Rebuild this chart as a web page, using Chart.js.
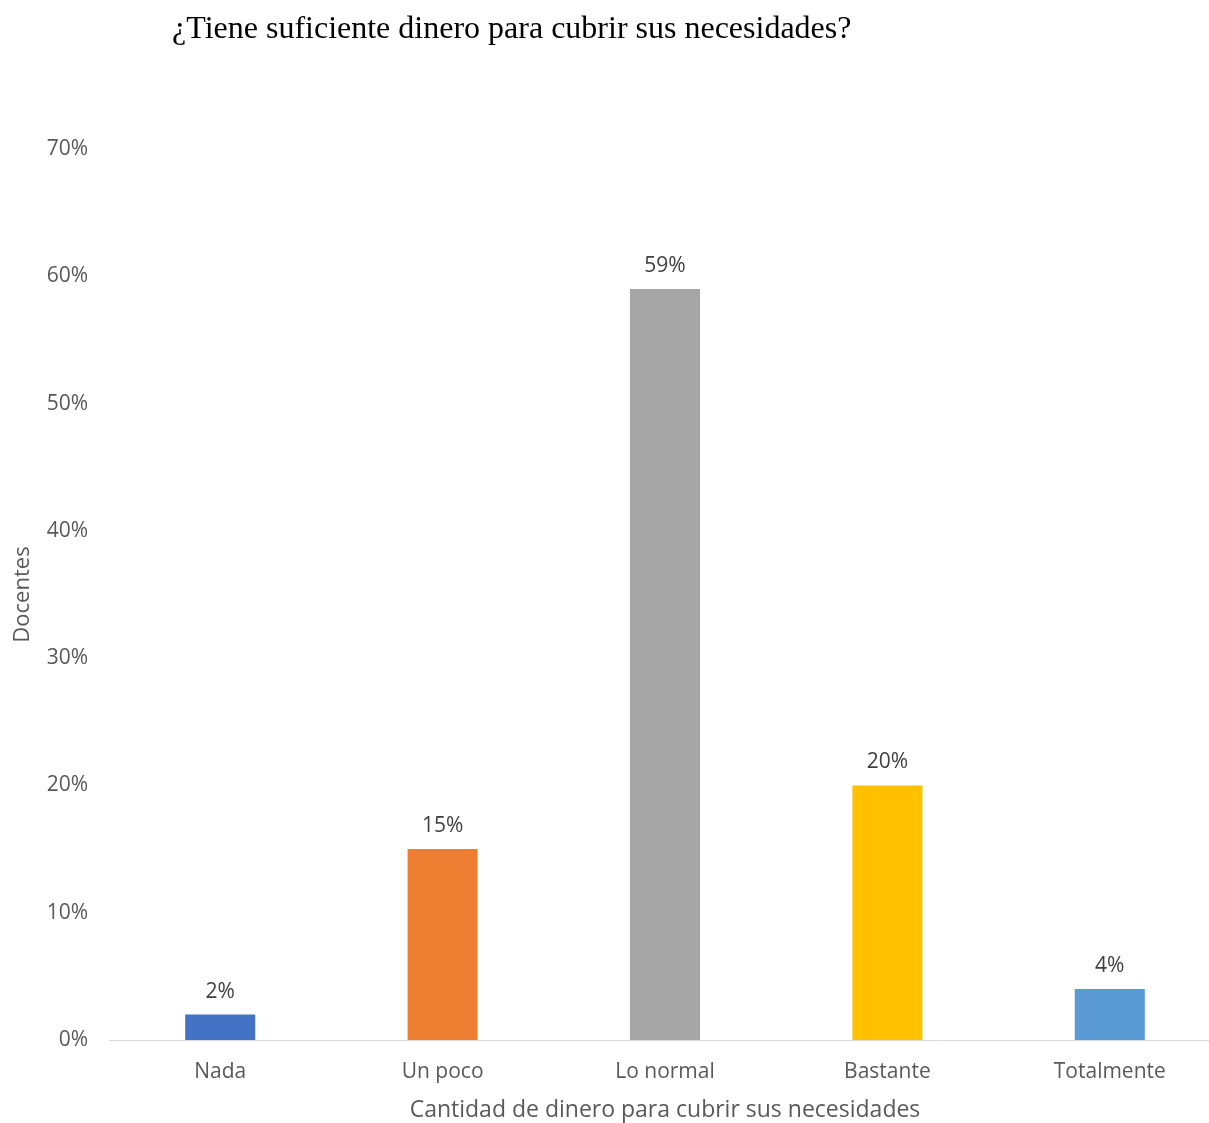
<!DOCTYPE html>
<html lang="es">
<head>
<meta charset="utf-8">
<script src="https://cdn.jsdelivr.net/npm/chart.js@4"></script>
<style>
  html, body { margin: 0; padding: 0; background: #fff; overflow: hidden; }
  #wrap { position: relative; width: 1221px; height: 1128px; }
  #titulo {
    position: absolute; left: 172px; top: 11px; margin: 0;
    font-family: "Liberation Serif", serif; font-weight: normal;
    font-size: 32px; line-height: 32px; color: #000; white-space: nowrap;
  }
</style>
</head>
<body>
<div id="wrap">
  <h1 id="titulo">¿Tiene suficiente dinero para cubrir sus necesidades?</h1>
  <canvas id="grafico" width="1221" height="1128"></canvas>
</div>
<script>
// Datos de la encuesta
const categorias = ['Nada', 'Un poco', 'Lo normal', 'Bastante', 'Totalmente'];
const porcentajes = [2, 15, 59, 20, 4];
const colores = ['#4472c4', '#ed7d31', '#a5a5a5', '#ffc000', '#5b9bd5'];
const ticksY = [0, 10, 20, 30, 40, 50, 60, 70];

const FUENTE = '"Open Sans", sans-serif';

// Etiquetas de valor encima de cada barra
const etiquetasValor = {
  id: 'etiquetasValor',
  afterDatasetsDraw(chart) {
    const ctx = chart.ctx;
    const meta = chart.getDatasetMeta(0);
    ctx.save();
    ctx.font = '21px ' + FUENTE;
    ctx.fillStyle = '#404040';
    ctx.textAlign = 'center';
    ctx.textBaseline = 'middle';
    meta.data.forEach((barra, i) => {
      ctx.fillText(porcentajes[i] + '%', barra.x, barra.y - 23);
    });
    ctx.restore();
  }
};

const ctx = document.getElementById('grafico').getContext('2d');
new Chart(ctx, {
  type: 'bar',
  data: {
    labels: categorias,
    datasets: [{
      data: porcentajes,
      backgroundColor: colores,
      barPercentage: 0.315,
      categoryPercentage: 1
    }]
  },
  options: {
    responsive: false,
    animation: false,
    layout: { padding: { top: 149, right: 0, bottom: 0, left: 10 } },
    plugins: {
      legend: { display: false },
      tooltip: { enabled: false }
    },
    scales: {
      x: {
        grid: { display: false },
        border: { color: '#d9d9d9', width: 1 },
        ticks: { color: '#595959', font: { family: FUENTE, size: 21 }, padding: 11 },
        title: {
          display: true,
          text: 'Cantidad de dinero para cubrir sus necesidades',
          color: '#595959',
          font: { family: FUENTE, size: 23 },
          padding: { top: 12, bottom: 4 }
        },
        afterFit(s) { s.height = 88; }
      },
      y: {
        min: 0,
        max: 70,
        afterBuildTicks(s) { s.ticks = ticksY.map(v => ({ value: v })); },
        grid: { display: false },
        border: { display: false },
        ticks: {
          color: '#595959',
          font: { family: FUENTE, size: 21 },
          padding: 13,
          callback: v => v + '%'
        },
        title: {
          display: true,
          text: 'Docentes',
          color: '#595959',
          font: { family: FUENTE, size: 22 },
          padding: { top: 0, bottom: 0 }
        },
        afterFit(s) { s.width = 99; }
      }
    }
  },
  plugins: [etiquetasValor]
});
</script>
</body>
</html>
